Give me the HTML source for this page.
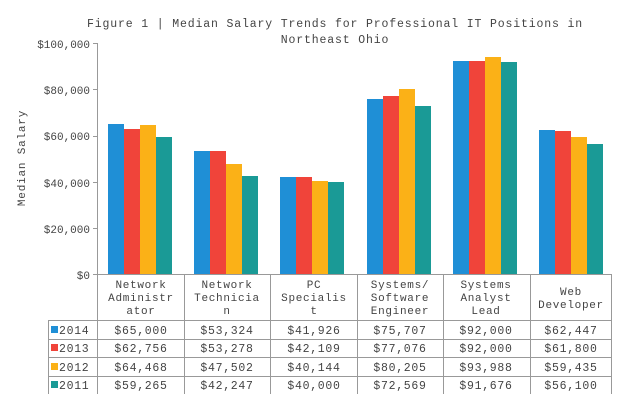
<!DOCTYPE html>
<html><head><style>
body{margin:0;background:#fff;}
svg text{font-family:"Liberation Mono","DejaVu Sans Mono",monospace;fill:#444;}
</style></head><body>
<svg width="620" height="408" xmlns="http://www.w3.org/2000/svg">
<text x="335" y="27" font-size="11.5" text-anchor="middle" letter-spacing="0.85">Figure 1 | Median Salary Trends for Professional IT Positions in</text>
<text x="335" y="43" font-size="11.5" text-anchor="middle" letter-spacing="0.85">Northeast Ohio</text>
<text transform="translate(25,158) rotate(-90)" font-size="11" text-anchor="middle" letter-spacing="0.8">Median Salary</text>
<g font-size="11" text-anchor="end">
<text x="90" y="48">$100,000</text><text x="90" y="94">$80,000</text>
<text x="90" y="140">$60,000</text><text x="90" y="187">$40,000</text>
<text x="90" y="233">$20,000</text><text x="90" y="279">$0</text>
</g>
<g stroke="#999" stroke-width="1">
<line x1="97.5" y1="43" x2="97.5" y2="274"/>
<line x1="93" y1="43.5" x2="98" y2="43.5"/><line x1="93" y1="89.5" x2="98" y2="89.5"/>
<line x1="93" y1="136.5" x2="98" y2="136.5"/><line x1="93" y1="182.5" x2="98" y2="182.5"/>
<line x1="93" y1="228.5" x2="98" y2="228.5"/><line x1="93" y1="274.5" x2="98" y2="274.5"/>
</g>
<g stroke="#999" stroke-width="1" fill="none">
<line x1="97.5" y1="274.5" x2="612" y2="274.5"/>
<line x1="48" y1="320.5" x2="612" y2="320.5"/>
<line x1="48" y1="339.5" x2="612" y2="339.5"/>
<line x1="48" y1="357.5" x2="612" y2="357.5"/>
<line x1="48" y1="376.5" x2="612" y2="376.5"/>
<line x1="48.5" y1="320" x2="48.5" y2="394"/>
<line x1="97.5" y1="274" x2="97.5" y2="394"/>
<line x1="184.5" y1="274" x2="184.5" y2="394"/>
<line x1="270.5" y1="274" x2="270.5" y2="394"/>
<line x1="357.5" y1="274" x2="357.5" y2="394"/>
<line x1="443.5" y1="274" x2="443.5" y2="394"/>
<line x1="530.5" y1="274" x2="530.5" y2="394"/>
<line x1="611.5" y1="274" x2="611.5" y2="394"/>
</g>
<g font-size="11" text-anchor="middle" letter-spacing="0.7">
<text x="141" y="288">Network</text><text x="141" y="301">Administr</text><text x="141" y="314">ator</text>
<text x="227" y="288">Network</text><text x="227" y="301">Technicia</text><text x="227" y="314">n</text>
<text x="314" y="288">PC</text><text x="314" y="301">Specialis</text><text x="314" y="314">t</text>
<text x="400" y="288">Systems/</text><text x="400" y="301">Software</text><text x="400" y="314">Engineer</text>
<text x="486" y="288">Systems</text><text x="486" y="301">Analyst</text><text x="486" y="314">Lead</text>
<text x="571" y="295">Web</text><text x="571" y="308">Developer</text>
</g>
<g font-size="11.5" letter-spacing="0.7">
<rect x="51" y="326" width="7" height="7" fill="#1f8fd6"/><text x="59" y="334">2014</text>
<rect x="51" y="344" width="7" height="7" fill="#f0443a"/><text x="59" y="352">2013</text>
<rect x="51" y="363" width="7" height="7" fill="#fbb117"/><text x="59" y="371">2012</text>
<rect x="51" y="381" width="7" height="7" fill="#1a9a96"/><text x="59" y="389">2011</text>
</g>
<g font-size="11.5" text-anchor="middle" letter-spacing="0.7">
<text x="141" y="334">$65,000</text><text x="227" y="334">$53,324</text><text x="314" y="334">$41,926</text><text x="400" y="334">$75,707</text><text x="486" y="334">$92,000</text><text x="571" y="334">$62,447</text>
<text x="141" y="352">$62,756</text><text x="227" y="352">$53,278</text><text x="314" y="352">$42,109</text><text x="400" y="352">$77,076</text><text x="486" y="352">$92,000</text><text x="571" y="352">$61,800</text>
<text x="141" y="371">$64,468</text><text x="227" y="371">$47,502</text><text x="314" y="371">$40,144</text><text x="400" y="371">$80,205</text><text x="486" y="371">$93,988</text><text x="571" y="371">$59,435</text>
<text x="141" y="389">$59,265</text><text x="227" y="389">$42,247</text><text x="314" y="389">$40,000</text><text x="400" y="389">$72,569</text><text x="486" y="389">$91,676</text><text x="571" y="389">$56,100</text>
</g>
<g>
<rect x="108" y="124" width="16" height="150" fill="#1f8fd6"/><rect x="124" y="129" width="16" height="145" fill="#f0443a"/><rect x="140" y="125" width="16" height="149" fill="#fbb117"/><rect x="156" y="137" width="16" height="137" fill="#1a9a96"/>
<rect x="194" y="151" width="16" height="123" fill="#1f8fd6"/><rect x="210" y="151" width="16" height="123" fill="#f0443a"/><rect x="226" y="164" width="16" height="110" fill="#fbb117"/><rect x="242" y="176" width="16" height="98" fill="#1a9a96"/>
<rect x="280" y="177" width="16" height="97" fill="#1f8fd6"/><rect x="296" y="177" width="16" height="97" fill="#f0443a"/><rect x="312" y="181" width="16" height="93" fill="#fbb117"/><rect x="328" y="182" width="16" height="92" fill="#1a9a96"/>
<rect x="367" y="99" width="16" height="175" fill="#1f8fd6"/><rect x="383" y="96" width="16" height="178" fill="#f0443a"/><rect x="399" y="89" width="16" height="185" fill="#fbb117"/><rect x="415" y="106" width="16" height="168" fill="#1a9a96"/>
<rect x="453" y="61" width="16" height="213" fill="#1f8fd6"/><rect x="469" y="61" width="16" height="213" fill="#f0443a"/><rect x="485" y="57" width="16" height="217" fill="#fbb117"/><rect x="501" y="62" width="16" height="212" fill="#1a9a96"/>
<rect x="539" y="130" width="16" height="144" fill="#1f8fd6"/><rect x="555" y="131" width="16" height="143" fill="#f0443a"/><rect x="571" y="137" width="16" height="137" fill="#fbb117"/><rect x="587" y="144" width="16" height="130" fill="#1a9a96"/>
</g>
</svg>
</body></html>
